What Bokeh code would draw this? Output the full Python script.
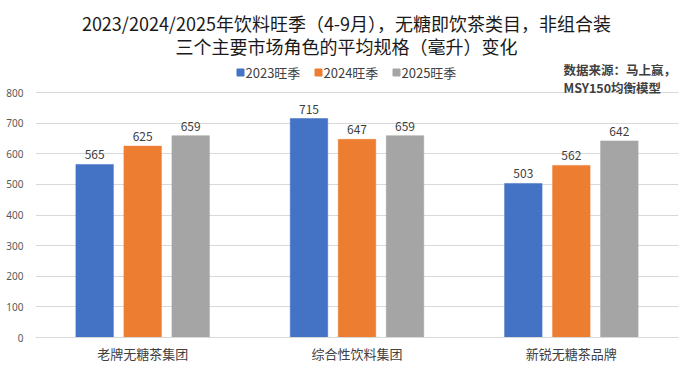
from bokeh.plotting import figure
from bokeh.models import Range1d, FixedTicker
from bokeh.core.properties import value
from bokeh.embed import file_html
from bokeh.resources import INLINE

# ---- data ----
categories = ["老牌无糖茶集团", "综合性饮料集团", "新锐无糖茶品牌"]
series_names = ["2023旺季", "2024旺季", "2025旺季"]
vals_2023 = [565, 715, 503]
vals_2024 = [625, 647, 562]
vals_2025 = [659, 659, 642]
y_ticks = [0, 100, 200, 300, 400, 500, 600, 700, 800]
title_lines = ["2023/2024/2025年饮料旺季（4-9月），无糖即饮茶类目，非组合装",
               "三个主要市场角色的平均规格（毫升）变化"]
source_lines = ["数据来源：马上赢，", "MSY150均衡模型"]

colors = ["#4472C4", "#ED7D31", "#A5A5A5"]
FONT = "Noto Sans CJK SC"

W, H = 690, 371
LEFT, RIGHT, BOTTOM = 35, 12, 34
frame_w = W - LEFT - RIGHT
frame_h = H - BOTTOM
px_per_unit_y = 245 / 800.0
y_top = frame_h / px_per_unit_y
x_units = len(categories)
px_per_unit_x = frame_w / x_units

def dx(px):
    return (px - LEFT) / px_per_unit_x

def dy(py):
    return (frame_h - py) / px_per_unit_y

p = figure(width=W, height=H, output_backend="svg", toolbar_location=None,
           x_range=Range1d(0, x_units), y_range=Range1d(0, y_top),
           min_border_left=LEFT, min_border_right=RIGHT,
           min_border_top=0, min_border_bottom=BOTTOM)
p.outline_line_color = None
p.background_fill_color = "white"
p.border_fill_color = "white"

centers = [i + 0.5 for i in range(len(categories))]
bar_w = 0.175
offsets = [-0.224, 0.0, 0.224]
for s, vals, off, col in zip(series_names, [vals_2023, vals_2024, vals_2025], offsets, colors):
    xs = [c + off for c in centers]
    p.vbar(x=xs, top=vals, width=bar_w, fill_color=col, line_color=col, line_width=0.5)
    p.text(x=xs, y=vals, text=[str(v) for v in vals], text_align="center",
           text_baseline="bottom", y_offset=-5, text_font=value(FONT),
           text_font_size="12px", text_color="#404040")

# axes
p.yaxis.ticker = FixedTicker(ticks=y_ticks)
p.yaxis.axis_line_color = None
p.yaxis.major_tick_line_color = None
p.yaxis.minor_tick_line_color = None
p.yaxis.major_tick_out = 0
p.yaxis.major_tick_in = 0
p.yaxis.major_label_text_font = "Noto Sans"
p.yaxis.major_label_text_font_size = "10px"
p.yaxis.major_label_text_color = "#595959"
p.yaxis.major_label_standoff = 12

p.xaxis.ticker = FixedTicker(ticks=centers)
p.xaxis.major_label_overrides = {c: cat for c, cat in zip(centers, categories)}
p.xaxis.axis_line_color = "#D9D9D9"
p.xaxis.major_tick_line_color = None
p.xaxis.minor_tick_line_color = None
p.xaxis.major_tick_out = 0
p.xaxis.major_tick_in = 0
p.xaxis.major_label_text_font = FONT
p.xaxis.major_label_text_font_size = "13px"
p.xaxis.major_label_text_color = "#404040"
p.xaxis.major_label_standoff = 6

p.xgrid.grid_line_color = None
p.ygrid.grid_line_color = "#D9D9D9"
p.ygrid.ticker = FixedTicker(ticks=y_ticks)

# title
for line, py in zip(title_lines, [22, 45]):
    p.text(x=[dx(346)], y=[dy(py)], text=[line], text_align="center",
           text_baseline="middle", text_font=value(FONT), text_font_size="18px",
           text_color="#1a1a1a")

# legend
leg_x = [240, 318, 396]
for s, col, lx in zip(series_names, colors, leg_x):
    p.scatter(x=[dx(lx)], y=[dy(72)], marker="square", size=7, fill_color=col, line_color=col)
    p.text(x=[dx(lx + 5)], y=[dy(72)], text=[s], text_align="left", text_baseline="middle",
           text_font=value(FONT), text_font_size="13px", text_color="#404040")

# source note
for line, py in zip(source_lines, [69, 87]):
    p.text(x=[dx(563)], y=[dy(py)], text=[line], text_align="left", text_baseline="middle",
           text_font=value(FONT), text_font_size="12.5px", text_color="#404040",
           text_font_style="bold")

open("out.html", "w").write(file_html(p, INLINE))
